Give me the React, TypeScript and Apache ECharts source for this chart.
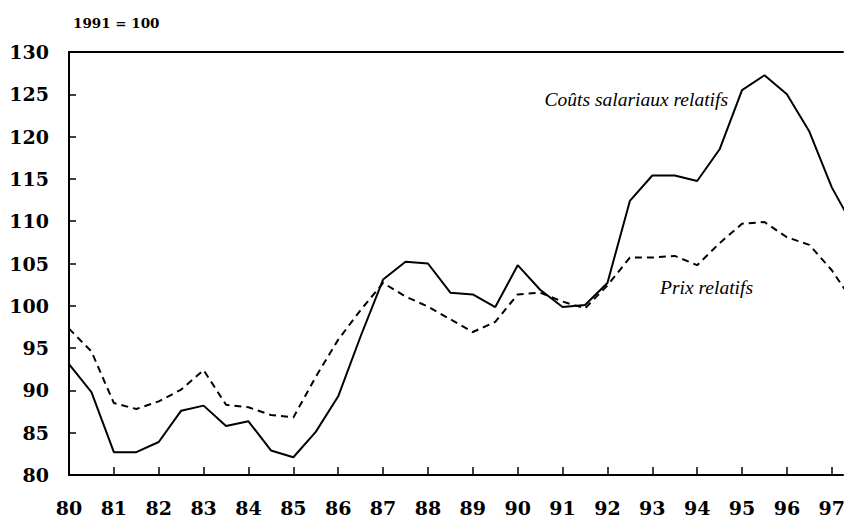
import React, { useEffect, useRef } from "react";
import * as echarts from "echarts";

const years: number[] = [
  80, 80.5, 81, 81.5, 82, 82.5, 83, 83.5, 84, 84.5, 85, 85.5, 86, 86.5, 87, 87.5, 88, 88.5,
  89, 89.5, 90, 90.5, 91, 91.5, 92, 92.5, 93, 93.5, 94, 94.5, 95, 95.5, 96, 96.5, 97, 97.5,
];

const coutsSalariaux: number[] = [
  93.1, 89.8, 82.7, 82.7, 83.9, 87.6, 88.2, 85.8, 86.35, 82.9, 82.1, 85.1, 89.3, 96.4, 103.1, 105.2, 105.0, 101.55,
  101.35, 99.85, 104.8, 101.9, 99.85, 100.1, 102.7, 112.4, 115.4, 115.4, 114.75, 118.5, 125.5, 127.25, 125.0, 120.6, 114.0, 109.2,
];

const prixRelatifs: number[] = [
  97.3, 94.6, 88.5, 87.8, 88.7, 90.1, 92.4, 88.3, 88.0, 87.1, 86.8, 91.6, 96.0, 99.5, 102.7, 101.1, 99.9, 98.4,
  96.9, 98.1, 101.35, 101.55, 100.5, 99.7, 102.4, 105.7, 105.7, 105.9, 104.8, 107.4, 109.7, 109.9, 108.1, 107.2, 104.2, 100.3,
];

const xTicks: number[] = [80, 81, 82, 83, 84, 85, 86, 87, 88, 89, 90, 91, 92, 93, 94, 95, 96, 97];

const unitLabel = "1991 = 100";
const labelCouts = "Coûts salariaux relatifs";
const labelPrix = "Prix relatifs";

const AXIS_FONT = "'DejaVu Serif', serif";
const ITALIC_FONT = "'Liberation Serif', 'Times New Roman', serif";

export default function App() {
  const ref = useRef<HTMLDivElement>(null);

  useEffect(() => {
    if (!ref.current) return;
    const chart = echarts.init(ref.current, null, { renderer: "svg" });
    const option: any = {
      animation: false,
      backgroundColor: "#ffffff",
      grid: { left: 69, top: 52, right: 0, bottom: 42, containLabel: false },
      xAxis: [
        {
          type: "value",
          min: 80,
          max: 97.25,
          interval: 1,
          axisLine: { show: true, lineStyle: { color: "#000", width: 2 } },
          axisTick: {
            show: true,
            inside: true,
            length: 8,
            lineStyle: { color: "#000", width: 1.5 },
            customValues: xTicks,
          },
          axisLabel: {
            show: true,
            margin: 23,
            color: "#000",
            fontFamily: AXIS_FONT,
            fontWeight: "bold",
            fontSize: 19,
            customValues: xTicks,
            formatter: (v: number) => String(v),
          },
          splitLine: { show: false },
        },
        {
          type: "value",
          position: "top",
          min: 80,
          max: 97.25,
          axisLine: { show: true, onZero: false, lineStyle: { color: "#000", width: 2 } },
          axisTick: { show: false },
          axisLabel: { show: false },
          splitLine: { show: false },
        },
      ],
      yAxis: {
        type: "value",
        min: 80,
        max: 130,
        interval: 5,
        axisLine: { show: true, lineStyle: { color: "#000", width: 2 } },
        axisTick: { show: true, inside: true, length: 7, lineStyle: { color: "#000", width: 1.5 } },
        axisLabel: {
          margin: 20,
          color: "#000",
          fontFamily: AXIS_FONT,
          fontWeight: "bold",
          fontSize: 19,
        },
        splitLine: { show: false },
      },
      series: [
        {
          name: labelCouts,
          type: "line",
          data: years.map((y, i) => [y, coutsSalariaux[i]]),
          showSymbol: false,
          symbol: "none",
          clip: true,
          lineStyle: { color: "#000", width: 2, type: "solid" },
        },
        {
          name: labelPrix,
          type: "line",
          data: years.map((y, i) => [y, prixRelatifs[i]]),
          showSymbol: false,
          symbol: "none",
          clip: true,
          lineStyle: { color: "#000", width: 2, type: [7, 5] },
        },
      ],
      graphic: [
        {
          type: "text",
          left: 73,
          top: 16,
          style: {
            text: unitLabel,
            fill: "#000",
            font: `bold 13.5px ${AXIS_FONT}`,
          },
        },
        {
          type: "text",
          x: 728,
          y: 99,
          style: {
            text: labelCouts,
            fill: "#000",
            font: `italic 19.5px ${ITALIC_FONT}`,
            align: "right",
            verticalAlign: "middle",
          },
        },
        {
          type: "text",
          x: 660,
          y: 287,
          style: {
            text: labelPrix,
            fill: "#000",
            font: `italic 19.5px ${ITALIC_FONT}`,
            align: "left",
            verticalAlign: "middle",
          },
        },
      ],
    };
    chart.setOption(option);
    return () => chart.dispose();
  }, []);

  return (
    <div
      ref={ref}
      style={{ position: "fixed", left: 0, top: 0, width: 848, height: 517, background: "#fff" }}
    />
  );
}
